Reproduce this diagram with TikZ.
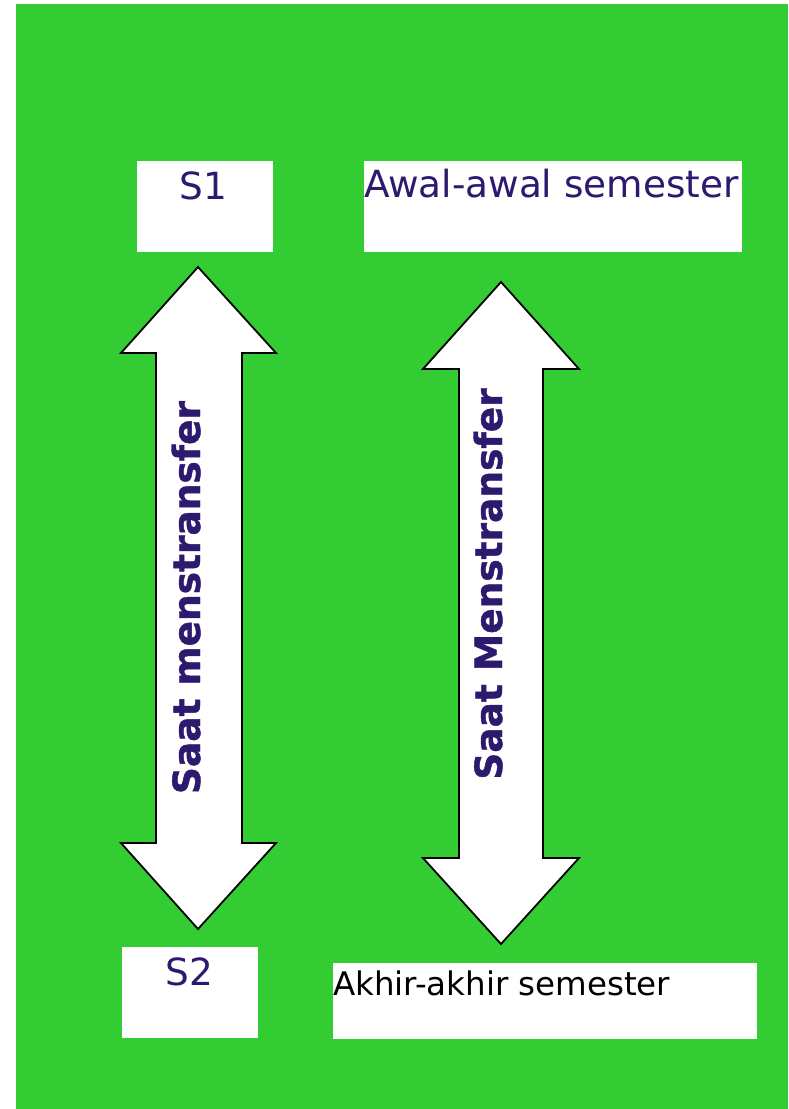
\documentclass[tikz,border=0pt]{standalone}
\usepackage{fontspec}
\setmainfont{DejaVu Sans}
\newfontfamily\heavyfont[FakeBold=1.2]{DejaVu Sans Bold}
\definecolor{bggreen}{RGB}{51,204,51}
\definecolor{ink}{RGB}{45,26,110}
\begin{document}
\begin{tikzpicture}[x=1pt,y=-1pt,
  box/.style={draw=none,fill=white,inner sep=0pt,outer sep=0pt},
  lbl/.style={inner sep=0pt,outer sep=0pt,text=ink,font=\fontsize{37.4}{37.4}\selectfont},
  sidelbl/.style={inner sep=0pt,outer sep=0pt,text=ink,font=\heavyfont\fontsize{37.5}{37.5}\selectfont,rotate=90,anchor=base},
  bigarrow/.style={draw=black,line width=1.8pt,fill=white,line join=miter}]
  % canvas
  \useasboundingbox (0,0) rectangle (788,1109);
  \fill[white] (0,0) rectangle (788,1109);
  \fill[bggreen] (16,4) rectangle (788,1109);

  % white boxes
  \node[box,minimum width=136pt,minimum height=91pt,anchor=north west] (b1) at (137,161) {};
  \node[box,minimum width=378pt,minimum height=91pt,anchor=north west] (b2) at (364,161) {};
  \node[box,minimum width=136pt,minimum height=91pt,anchor=north west] (b3) at (122,947) {};
  \node[box,minimum width=424pt,minimum height=76pt,anchor=north west] (b4) at (333,963) {};

  % box labels
  \node[lbl,anchor=base] (t1) at (203.5,199) {S1};
  \node[lbl,anchor=base west] (t2) at (364,197) {Awal-awal semester};
  \node[lbl,anchor=base] (t3) at (189.5,985) {S2};
  \node[lbl,text=black,font=\fontsize{32.5}{32.5}\selectfont,anchor=base west] (t4) at (333,995) {Akhir-akhir semester};

  % double-headed block arrows
  \draw[bigarrow] (198,267) -- (276,353) -- (242,353) -- (242,843) -- (276,843)
     -- (198,929) -- (121,843) -- (156,843) -- (156,353) -- (121,353) -- cycle;
  \draw[bigarrow] (501,282) -- (579,369) -- (543,369) -- (543,858) -- (579,858)
     -- (501,944) -- (423,858) -- (459,858) -- (459,369) -- (423,369) -- cycle;

  % arrow captions
  \node[sidelbl] (a1) at (200,597.5) {Saat menstransfer};
  \node[sidelbl] (a2) at (502,584) {Saat Menstransfer};
\end{tikzpicture}
\end{document}
